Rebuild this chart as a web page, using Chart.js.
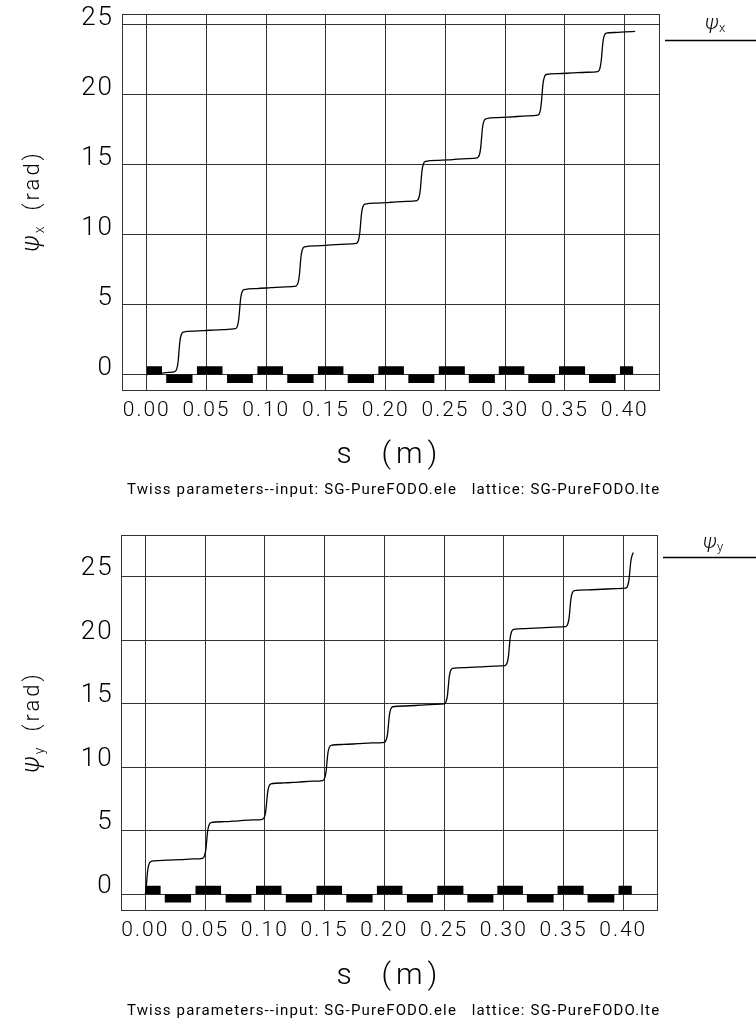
<!DOCTYPE html>
<html><head><meta charset="utf-8">
<script src="https://cdn.jsdelivr.net/npm/chart.js@4.4.1/dist/chart.umd.min.js"></script>
<style>
html,body{margin:0;padding:0;background:#fff;}
#wrap{position:relative;width:756px;height:1023px;overflow:hidden;}
canvas{position:absolute;left:0;}
</style></head><body>
<div id="wrap">
<canvas id="c1" width="756" height="521" style="top:0;width:756px;height:521px"></canvas>
<canvas id="c2" width="756" height="502" style="top:521px;width:756px;height:502px"></canvas>
</div>
<script>
// ---------- data ----------
const xTicks = [0, 0.05, 0.10, 0.15, 0.20, 0.25, 0.30, 0.35, 0.40];
const yTicks = [0, 5, 10, 15, 20, 25];

const sX = [0, 0.006, 0.012, 0.018, 0.0235, 0.0252, 0.0263, 0.0270, 0.0277, 0.0288, 0.0305, 0.040, 0.052, 0.064, 0.0743,
  0.0760, 0.0771, 0.0778, 0.0785, 0.0796, 0.0813, 0.092, 0.104, 0.116, 0.1249,
  0.1266, 0.1277, 0.1284, 0.1291, 0.1302, 0.1319, 0.142, 0.154, 0.166, 0.1755,
  0.1772, 0.1783, 0.1790, 0.1797, 0.1808, 0.1825, 0.193, 0.205, 0.217, 0.2261,
  0.2278, 0.2289, 0.2296, 0.2303, 0.2314, 0.2331, 0.244, 0.256, 0.268, 0.2767,
  0.2784, 0.2795, 0.2802, 0.2809, 0.2820, 0.2837, 0.294, 0.306, 0.318, 0.3273,
  0.3290, 0.3301, 0.3308, 0.3315, 0.3326, 0.3343, 0.344, 0.356, 0.368, 0.3775,
  0.3792, 0.3803, 0.3810, 0.3817, 0.3828, 0.3845, 0.392, 0.400, 0.4087];
const psiX = [0, 0.05, 0.10, 0.15, 0.20, 0.42, 0.95, 1.65, 2.35, 2.82, 3.02, 3.10, 3.16, 3.21, 3.27,
  3.49, 4.02, 4.70, 5.38, 5.86, 6.06, 6.14, 6.20, 6.26, 6.32,
  6.54, 7.07, 7.75, 8.43, 8.91, 9.11, 9.19, 9.25, 9.31, 9.37,
  9.59, 10.12, 10.80, 11.48, 11.96, 12.16, 12.24, 12.30, 12.36, 12.42,
  12.64, 13.17, 13.85, 14.53, 15.01, 15.21, 15.29, 15.35, 15.41, 15.47,
  15.69, 16.22, 16.90, 17.58, 18.06, 18.26, 18.34, 18.40, 18.46, 18.52,
  18.74, 19.30, 20.00, 20.70, 21.20, 21.42, 21.48, 21.53, 21.58, 21.63,
  21.85, 22.40, 23.05, 23.70, 24.18, 24.37, 24.42, 24.46, 24.50];

const sY = [0, 0.0007, 0.0014, 0.0021, 0.0030, 0.0045, 0.0075, 0.018, 0.030, 0.040, 0.0479,
  0.0496, 0.0507, 0.0514, 0.0521, 0.0532, 0.0549, 0.066, 0.078, 0.090, 0.0981,
  0.0998, 0.1009, 0.1016, 0.1023, 0.1034, 0.1051, 0.116, 0.128, 0.140, 0.1485,
  0.1502, 0.1513, 0.1520, 0.1527, 0.1538, 0.1555, 0.166, 0.178, 0.190, 0.2000,
  0.2017, 0.2028, 0.2035, 0.2042, 0.2053, 0.2070, 0.218, 0.230, 0.242, 0.2501,
  0.2518, 0.2529, 0.2536, 0.2543, 0.2554, 0.2571, 0.268, 0.280, 0.292, 0.3011,
  0.3028, 0.3039, 0.3046, 0.3053, 0.3064, 0.3081, 0.318, 0.330, 0.342, 0.3519,
  0.3536, 0.3547, 0.3554, 0.3561, 0.3572, 0.3589, 0.370, 0.382, 0.394, 0.4021,
  0.4038, 0.4049, 0.4056, 0.4063, 0.4073, 0.4084];
const psiY = [0, 0.5, 1.3, 1.95, 2.35, 2.55, 2.63, 2.68, 2.73, 2.78, 2.83,
  3.05, 3.55, 4.24, 4.93, 5.42, 5.63, 5.71, 5.78, 5.85, 5.90,
  6.12, 6.62, 7.30, 7.98, 8.47, 8.68, 8.76, 8.83, 8.90, 8.95,
  9.17, 9.67, 10.35, 11.03, 11.52, 11.72, 11.79, 11.85, 11.91, 11.96,
  12.18, 12.68, 13.37, 14.06, 14.55, 14.76, 14.82, 14.88, 14.94, 14.98,
  15.20, 15.70, 16.39, 17.08, 17.57, 17.78, 17.84, 17.90, 17.96, 18.00,
  18.22, 18.73, 19.44, 20.15, 20.64, 20.85, 20.91, 20.97, 21.03, 21.07,
  21.29, 21.80, 22.50, 23.20, 23.69, 23.90, 23.96, 24.01, 24.06, 24.10,
  24.32, 24.85, 25.55, 26.20, 26.65, 26.90];

// lattice profile (quadrupoles): focusing above axis, defocusing below
const qfStart = [0, 0.0420, 0.0926, 0.1432, 0.1938, 0.2444, 0.2946, 0.3450, 0.3960];
const qfEnd   = [0.0128, 0.0634, 0.1140, 0.1646, 0.2152, 0.2662, 0.3160, 0.3668, 0.4072];
const qdStart = [0.0163, 0.0672, 0.1176, 0.1682, 0.2189, 0.2695, 0.3193, 0.3701];
const qdEnd   = [0.0383, 0.0888, 0.1396, 0.1902, 0.2407, 0.2913, 0.3417, 0.3925];
const magHeightX = 0.6;
const magHeightY = 0.66;

const caption = 'Twiss parameters--input: SG-PureFODO.ele   lattice: SG-PureFODO.lte';

// ---------- helpers ----------
const FONT = 'Roboto';
const TEXT = '#000';
const GRID = '#333';

function pts(xs, ys) { return xs.map((x, i) => ({x: x, y: ys[i]})); }
function magnetPoints(h) {
  const p = [];
  qfStart.forEach((s, i) => { p.push({x: s, y: h}); p.push({x: qfEnd[i], y: 0}); });
  qdStart.forEach((s, i) => { p.push({x: s, y: -h}); p.push({x: qdEnd[i], y: 0}); });
  p.sort((a, b) => a.x - b.x);
  return p;
}

const deco = {
  id: 'deco',
  beforeDraw(chart) { chart.ctx.letterSpacing = '2px'; },
  afterDraw(chart, args, o) {
    const ctx = chart.ctx, a = chart.chartArea;
    ctx.save();
    ctx.letterSpacing = '0px';
    ctx.strokeStyle = GRID; ctx.lineWidth = 1;
    const l = Math.round(a.left) + 0.5, t = Math.round(a.top) + 0.5,
          r = Math.round(a.right) - 0.5, b = Math.round(a.bottom) - 0.5;
    ctx.strokeRect(l, t, r - l, b - t);
    ctx.fillStyle = TEXT;

    // y axis title
    ctx.save();
    ctx.translate(o.yTitle[0], o.yTitle[1]);
    ctx.rotate(-Math.PI / 2);
    ctx.textAlign = 'left'; ctx.textBaseline = 'alphabetic';
    const fMain = `300 22px ${FONT}`, fPsi = `italic 300 25px ${FONT}`, fSub = `300 14px ${FONT}`;
    ctx.font = fPsi; ctx.letterSpacing = '0px';
    const wp = ctx.measureText('ψ').width;
    ctx.font = fSub; const ws = ctx.measureText(o.sub).width;
    ctx.font = fMain; ctx.letterSpacing = '3px';
    const wr = ctx.measureText('(rad)').width;
    const gap = 16, total = wp + 2 + ws + gap + wr;
    let x = -total / 2;
    ctx.letterSpacing = '0px'; ctx.font = fPsi; ctx.fillText('ψ', x, 7);
    x += wp + 2;
    ctx.font = fSub; ctx.fillText(o.sub, x, 12);
    x += ws + gap;
    ctx.font = fMain; ctx.letterSpacing = '3px'; ctx.fillText('(rad)', x, 7);
    ctx.restore();

    // x axis title
    ctx.save();
    ctx.font = `300 30px ${FONT}`; ctx.letterSpacing = '5px';
    ctx.textAlign = 'center'; ctx.textBaseline = 'middle';
    ctx.fillText('s  (m)', o.xTitle[0] + 2.5, o.xTitle[1]);
    ctx.restore();

    // caption
    ctx.save();
    ctx.font = `400 15px ${FONT}`; ctx.letterSpacing = '0px';
    const w0 = ctx.measureText(caption).width;
    const sp = (o.capWidth - w0) / caption.length;
    ctx.letterSpacing = sp.toFixed(2) + 'px';
    ctx.textAlign = 'left'; ctx.textBaseline = 'middle';
    ctx.fillText(caption, o.cap[0], o.cap[1]);
    ctx.restore();

    // legend
    ctx.save();
    ctx.letterSpacing = '0px';
    ctx.textAlign = 'left'; ctx.textBaseline = 'alphabetic';
    ctx.font = `italic 300 21px ${FONT}`;
    ctx.fillText('ψ', o.leg[0], o.leg[1]);
    ctx.font = `300 13px ${FONT}`;
    ctx.fillText(o.sub, o.leg[0] + 14, o.leg[1] + 3);
    ctx.strokeStyle = '#000'; ctx.lineWidth = 1.5;
    ctx.beginPath(); ctx.moveTo(o.legLine[0], o.legLine[1]); ctx.lineTo(756, o.legLine[1]); ctx.stroke();
    ctx.restore();

    ctx.restore();
  }
};

function makeChart(id, cfg) {
  return new Chart(document.getElementById(id), {
    type: 'line',
    data: {
      datasets: [
        {data: pts(cfg.s, cfg.v), borderColor: '#000', borderWidth: 1.3, pointRadius: 0,
         fill: false, cubicInterpolationMode: 'monotone', order: 0},
        {data: magnetPoints(cfg.mag), stepped: true, borderColor: 'rgba(0,0,0,0)', borderWidth: 0,
         backgroundColor: '#000', fill: 'origin', pointRadius: 0, order: 1}
      ]
    },
    options: {
      responsive: false, animation: false, devicePixelRatio: 1,
      layout: {padding: {top: cfg.top, right: cfg.padRight, left: 0, bottom: 0}},
      plugins: {legend: {display: false}, tooltip: {enabled: false}, deco: cfg.deco},
      scales: {
        x: {
          type: 'linear', min: cfg.xmin, max: cfg.xmax,
          afterBuildTicks: s => { s.ticks = xTicks.map(v => ({value: v})); },
          ticks: {stepSize: 0.05, includeBounds: false, autoSkip: false, maxRotation: 0,
                  padding: 7.5, color: TEXT, font: {family: FONT, size: 21, weight: 300},
                  callback: v => Number(v).toFixed(2)},
          grid: {color: GRID, lineWidth: 1, drawTicks: false},
          border: {display: false},
          afterFit: s => { s.height = cfg.xHeight; s.paddingLeft = 0; s.paddingRight = 0; }
        },
        y: {
          type: 'linear', min: cfg.ymin, max: cfg.ymax,
          afterBuildTicks: s => { s.ticks = yTicks.map(v => ({value: v})); },
          ticks: {stepSize: 5, includeBounds: false, padding: cfg.yPad, labelOffset: cfg.yLabOff,
                  color: TEXT, font: {family: FONT, size: 26, weight: 300},
                  callback: v => String(v)},
          grid: {color: GRID, lineWidth: 1, drawTicks: false},
          border: {display: false},
          afterFit: s => { s.width = cfg.yWidth; s.paddingTop = 0; s.paddingBottom = 0; }
        }
      }
    },
    plugins: [deco]
  });
}

makeChart('c1', {
  s: sX, v: psiX, mag: magHeightX,
  xmin: -0.0207, xmax: 0.4295, ymin: -1.14, ymax: 25.74,
  top: 14, padRight: 96, xHeight: 130.5, yWidth: 122, yPad: 8, yLabOff: -6,
  deco: {sub: 'x', yTitle: [32, 201], xTitle: [387, 455], cap: [127, 490], capWidth: 533,
         leg: [705, 29], legLine: [665, 40.5]}
});
makeChart('c2', {
  s: sY, v: psiY, mag: magHeightY,
  xmin: -0.0206, xmax: 0.4293, ymin: -1.28, ymax: 28.28,
  top: 14, padRight: 97.7, xHeight: 112.5, yWidth: 120.7, yPad: 7, yLabOff: -8,
  deco: {sub: 'y', yTitle: [32, 201], xTitle: [387, 455], cap: [127, 490], capWidth: 533,
         leg: [703, 27], legLine: [663, 36.5]}
});
</script>
</body></html>
